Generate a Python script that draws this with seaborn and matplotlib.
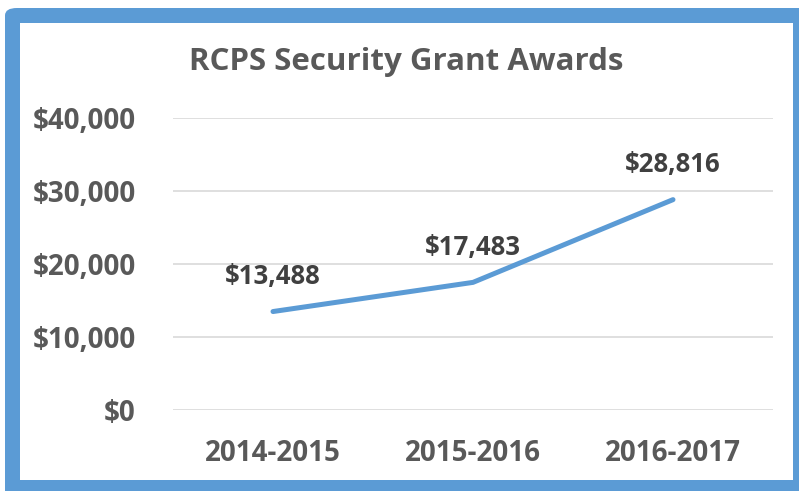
import matplotlib
matplotlib.use("Agg")
import matplotlib.pyplot as plt
import seaborn as sns
import pandas as pd
from matplotlib.patches import FancyBboxPatch, Rectangle

years = ["2014-2015", "2015-2016", "2016-2017"]
awards = [13488, 17483, 28816]
yticks = [0, 10000, 20000, 30000, 40000]
title = "RCPS Security Grant Awards"

sns.set_theme(style="white")
plt.rcParams['font.family'] = ['Open Sans', 'DejaVu Sans']
plt.rcParams['font.weight'] = 'bold'

W, H = 799, 491
fig = plt.figure(figsize=(W / 100, H / 100), dpi=100)

# blue frame
fig.patches.append(FancyBboxPatch((5 / W, -0.1), 1.2, (H - 8) / H + 0.1,
                                  boxstyle="round,pad=0,rounding_size=0.015",
                                  transform=fig.transFigure, facecolor="#5B9BD5",
                                  edgecolor="none", zorder=-2))
fig.patches.append(Rectangle((20 / W, (H - 480) / H), (793 - 20) / W, (480 - 23) / H,
                             transform=fig.transFigure, facecolor="white",
                             edgecolor="none", zorder=-1))

ax = fig.add_axes([173 / W, (H - 410) / H, 600 / W, (410 - 118) / H])
ax.set_facecolor("none")
df = pd.DataFrame({"year": years, "award": awards})
sns.lineplot(data=df, x="year", y="award", ax=ax, color="#5B9BD5", linewidth=3.6,
             sort=False, solid_capstyle="round")
ax.set_xlim(-0.5, 2.5)
ax.set_ylim(0, 40000)
ax.set_yticks(yticks)
ax.set_yticklabels([f"${v:,}" for v in yticks], fontweight="bold")
ax.grid(axis="y", color="#D9D9D9", linewidth=1.2)
ax.grid(axis="x", visible=False)
for s in ax.spines.values():
    s.set_visible(False)
ax.set_xlabel("")
ax.set_ylabel("")
ax.tick_params(axis="y", length=0, pad=27, labelsize=20, labelcolor="#595959")
ax.tick_params(axis="x", length=0, pad=21, labelsize=20, labelcolor="#595959")

for i, v in enumerate(awards):
    ax.annotate(f"${v:,}", (i, v), xytext=(0, 25), textcoords="offset points",
                ha="center", va="center", fontsize=18.5, fontweight="bold", color="#404040")

fig.text(406 / W, 1 - 70 / H, title, ha="center", va="baseline", fontsize=22.5,
         fontweight="bold", color="#595959")

fig.savefig("out.png", dpi=100)
